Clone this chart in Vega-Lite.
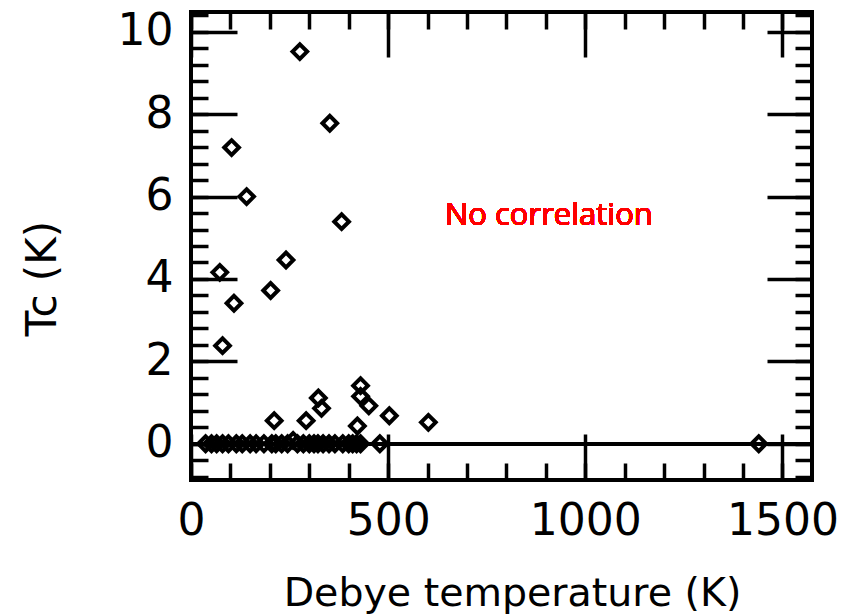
{
  "$schema": "https://vega.github.io/schema/vega-lite/v6.json",
  "width": 621,
  "height": 468,
  "autosize": {"type": "none"},
  "padding": {"left": 191, "top": 12, "right": 38, "bottom": 134},
  "background": "white",
  "config": {
    "view": {"stroke": "black", "strokeWidth": 4},
    "axis": {
      "domain": false,
      "grid": false,
      "ticks": true,
      "labelFont": "DejaVu Sans",
      "labelFontSize": 44,
      "labelColor": "black",
      "titleFont": "DejaVu Sans",
      "titleFontWeight": "normal",
      "titleColor": "black",
      "tickColor": "black",
      "tickWidth": 3.5,
      "tickSize": -17,
      "labelOverlap": false,
      "labelFlush": false,
      "labelBound": false
    }
  },
  "data": {
    "values": [
      {"theta": 276, "tc": 9.52}, {"theta": 352, "tc": 7.78}, {"theta": 103, "tc": 7.19},
      {"theta": 141, "tc": 6.0}, {"theta": 382, "tc": 5.39}, {"theta": 73, "tc": 4.16},
      {"theta": 241, "tc": 4.46}, {"theta": 202, "tc": 3.72}, {"theta": 109, "tc": 3.41},
      {"theta": 80, "tc": 2.38}, {"theta": 211, "tc": 0.56}, {"theta": 292, "tc": 0.56},
      {"theta": 323, "tc": 1.11}, {"theta": 331, "tc": 0.86}, {"theta": 430, "tc": 1.41},
      {"theta": 430, "tc": 1.15}, {"theta": 451, "tc": 0.92}, {"theta": 503, "tc": 0.68},
      {"theta": 602, "tc": 0.52}, {"theta": 422, "tc": 0.43}, {"theta": 259, "tc": 0.08},
      {"theta": 37, "tc": 0}, {"theta": 52, "tc": 0}, {"theta": 65, "tc": 0},
      {"theta": 80, "tc": 0}, {"theta": 95, "tc": 0}, {"theta": 115, "tc": 0},
      {"theta": 130, "tc": 0}, {"theta": 150, "tc": 0}, {"theta": 165, "tc": 0},
      {"theta": 185, "tc": 0}, {"theta": 205, "tc": 0}, {"theta": 215, "tc": 0},
      {"theta": 230, "tc": 0}, {"theta": 245, "tc": 0}, {"theta": 270, "tc": 0},
      {"theta": 285, "tc": 0}, {"theta": 300, "tc": 0}, {"theta": 312, "tc": 0},
      {"theta": 322, "tc": 0}, {"theta": 335, "tc": 0}, {"theta": 350, "tc": 0},
      {"theta": 365, "tc": 0}, {"theta": 385, "tc": 0}, {"theta": 400, "tc": 0},
      {"theta": 410, "tc": 0}, {"theta": 420, "tc": 0}, {"theta": 430, "tc": 0},
      {"theta": 479, "tc": 0}, {"theta": 1440, "tc": 0}
    ]
  },
  "layer": [
    {
      "mark": {"type": "rule", "stroke": "black", "strokeWidth": 3},
      "encoding": {
        "y": {"datum": 0, "type": "quantitative", "scale": {"domain": [-0.88, 10.48], "nice": false, "zero": false}, "axis": null}
      }
    },
    {
      "mark": {"type": "point", "shape": "diamond", "filled": false, "stroke": "black", "strokeWidth": 4, "size": 215, "opacity": 1},
      "encoding": {
        "x": {
          "field": "theta", "type": "quantitative",
          "scale": {"domain": [0, 1575], "nice": false, "zero": false},
          "axis": {
            "orient": "bottom",
            "values": [0, 100, 200, 300, 400, 500, 600, 700, 800, 900, 1000, 1100, 1200, 1300, 1400, 1500],
            "labelExpr": "datum.value % 500 === 0 ? format(datum.value, 'd') : ''",
            "labelPadding": 36,
            "title": "Debye temperature (K)",
            "titleFontSize": 39.5,
            "titleX": 321,
            "titleY": 125,
            "titleAlign": "center",
            "titleBaseline": "alphabetic"
          }
        },
        "y": {
          "field": "tc", "type": "quantitative",
          "scale": {"domain": [-0.88, 10.48], "nice": false, "zero": false},
          "axis": {
            "orient": "left",
            "values": [-0.8, -0.4, 0, 0.4, 0.8, 1.2, 1.6, 2, 2.4, 2.8, 3.2, 3.6, 4, 4.4, 4.8, 5.2, 5.6, 6, 6.4, 6.8, 7.2, 7.6, 8, 8.4, 8.8, 9.2, 9.6, 10, 10.4],
            "labelExpr": "datum.value % 2 === 0 ? format(datum.value, 'd') : ''",
            "labelPadding": 35,
            "title": "Tc (K)",
            "titleFontSize": 42,
            "titleAngle": 270,
            "titleX": -136,
            "titleY": 266,
            "titleAlign": "center",
            "titleBaseline": "alphabetic"
          }
        }
      }
    },
    {
      "mark": {"type": "point", "opacity": 0},
      "encoding": {
        "x": {
          "field": "theta", "type": "quantitative",
          "scale": {"domain": [0, 1575], "nice": false, "zero": false},
          "axis": {
            "orient": "top",
            "values": [0, 100, 200, 300, 400, 500, 600, 700, 800, 900, 1000, 1100, 1200, 1300, 1400, 1500],
            "labels": false,
            "title": null
          }
        },
        "y": {
          "field": "tc", "type": "quantitative",
          "scale": {"domain": [-0.88, 10.48], "nice": false, "zero": false},
          "axis": {
            "orient": "right",
            "values": [-0.8, -0.4, 0, 0.4, 0.8, 1.2, 1.6, 2, 2.4, 2.8, 3.2, 3.6, 4, 4.4, 4.8, 5.2, 5.6, 6, 6.4, 6.8, 7.2, 7.6, 8, 8.4, 8.8, 9.2, 9.6, 10, 10.4],
            "labels": false,
            "title": null
          }
        }
      }
    },
    {
      "mark": {"type": "point", "opacity": 0},
      "encoding": {
        "x": {
          "field": "theta", "type": "quantitative",
          "scale": {"domain": [0, 1575], "nice": false, "zero": false},
          "axis": {
            "orient": "bottom",
            "values": [0, 500, 1000, 1500],
            "tickSize": -46,
            "labels": false,
            "title": null
          }
        },
        "y": {
          "field": "tc", "type": "quantitative",
          "scale": {"domain": [-0.88, 10.48], "nice": false, "zero": false},
          "axis": {
            "orient": "left",
            "values": [0, 2, 4, 6, 8, 10],
            "tickSize": -46,
            "labels": false,
            "title": null
          }
        }
      }
    },
    {
      "mark": {"type": "point", "opacity": 0},
      "encoding": {
        "x": {
          "field": "theta", "type": "quantitative",
          "scale": {"domain": [0, 1575], "nice": false, "zero": false},
          "axis": {
            "orient": "top",
            "values": [0, 500, 1000, 1500],
            "tickSize": -45,
            "labels": false,
            "title": null
          }
        },
        "y": {
          "field": "tc", "type": "quantitative",
          "scale": {"domain": [-0.88, 10.48], "nice": false, "zero": false},
          "axis": {
            "orient": "right",
            "values": [0, 2, 4, 6, 8, 10],
            "tickSize": -45,
            "labels": false,
            "title": null
          }
        }
      }
    },
    {
      "mark": {"type": "text", "font": "Open Sans", "fontSize": 31, "fill": "#ff0000", "align": "left", "baseline": "alphabetic"},
      "encoding": {
        "x": {"datum": 644, "type": "quantitative", "scale": {"domain": [0, 1575], "nice": false, "zero": false}, "axis": null},
        "y": {"datum": 5.31, "type": "quantitative", "scale": {"domain": [-0.88, 10.48], "nice": false, "zero": false}, "axis": null},
        "text": {"value": "No correlation"}
      }
    }
  ],
  "resolve": {"axis": {"x": "independent", "y": "independent"}}
}
